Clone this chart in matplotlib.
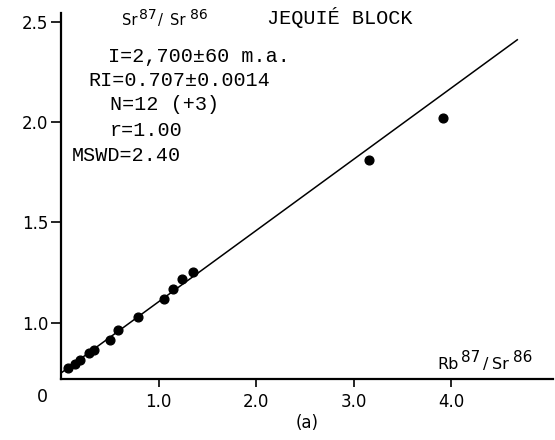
import matplotlib
matplotlib.use("Agg")
import matplotlib.pyplot as plt
import numpy as np

# ---- data ----
rb_sr = [0.072, 0.144, 0.195, 0.287, 0.338, 0.503, 0.585, 0.790, 1.056, 1.149, 1.241, 1.354, 3.159, 3.918]
sr_sr = [0.774, 0.792, 0.812, 0.849, 0.862, 0.916, 0.962, 1.030, 1.118, 1.170, 1.216, 1.252, 1.811, 2.021]
fit_x = [0.0, 4.68]
fit_intercept = 0.749
fit_slope = 0.355
x_ticks = [1.0, 2.0, 3.0, 4.0]
x_tick_labels = ["1.0", "2.0", "3.0", "4.0"]
y_ticks = [1.0, 1.5, 2.0, 2.5]
y_tick_labels = ["1.0", "1.5", "2.0", "2.5"]
stats_lines = ["I=2,700\u00b160 m.a.", "RI=0.707\u00b10.0014", "N=12 (+3)", "r=1.00", "MSWD=2.40"]

W, H = 555, 440
fig = plt.figure(figsize=(W / 100, H / 100), dpi=100)
ax = fig.add_axes([61 / W, 1 - 379 / H, (553 - 61) / W, (379 - 13) / H])
ax.set_xlim(0, (553 - 61) / 97.5)
ax.set_ylim(0.7193, 2.5439)

fx = np.array(fit_x)
ax.plot(fx, fit_intercept + fit_slope * fx, color="black", lw=1.1)
ax.plot(rb_sr, sr_sr, "o", color="black", ms=6.3, clip_on=False)

for s in ["top", "right"]:
    ax.spines[s].set_visible(False)
for s in ["left", "bottom"]:
    ax.spines[s].set_linewidth(1.6)

ax.set_xticks(x_ticks)
ax.set_xticklabels(x_tick_labels)
ax.set_yticks(y_ticks)
ax.set_yticklabels(y_tick_labels)
ax.tick_params(axis="y", direction="out", length=7, width=1.2, pad=2, labelsize=12)
ax.tick_params(axis="x", direction="out", length=6, width=1.2, pad=4, labelsize=12)


def ft(px, py, s, **kw):
    fig.text(px / W, 1 - py / H, s, **kw)


def iso_label(pieces):
    # pieces: (x_px, baseline_px, text, size)
    for px, py, s, sz in pieces:
        ft(px, py, s, ha="left", va="baseline", fontsize=sz)


mono = "Liberation Mono"
ft(42, 397, "0", ha="center", va="center", fontsize=12.5)

iso_label([(122, 25, "Sr", 10.5), (139, 19, "87", 10), (158, 25, "/", 10.5),
           (170, 25, "Sr", 10.5), (190, 19, "86", 10)])
ft(267, 18, "JEQUI\u00c9 BLOCK", ha="left", va="center", fontsize=14.5, family=mono)
iso_label([(437, 369, "Rb", 11.5), (461, 362, "87", 11), (483, 369, "/", 11.5),
           (492, 369, "Sr", 11.5), (513, 362, "86", 11)])
ft(307, 423, "(a)", ha="center", va="center", fontsize=12)

stat_pos = [(108, 57), (88, 80), (110, 104), (110, 130), (72, 155)]
for (px, py), s in zip(stat_pos, stats_lines):
    ft(px, py, s, ha="left", va="center", fontsize=14.5, family=mono)

fig.savefig("out.png", dpi=100)
